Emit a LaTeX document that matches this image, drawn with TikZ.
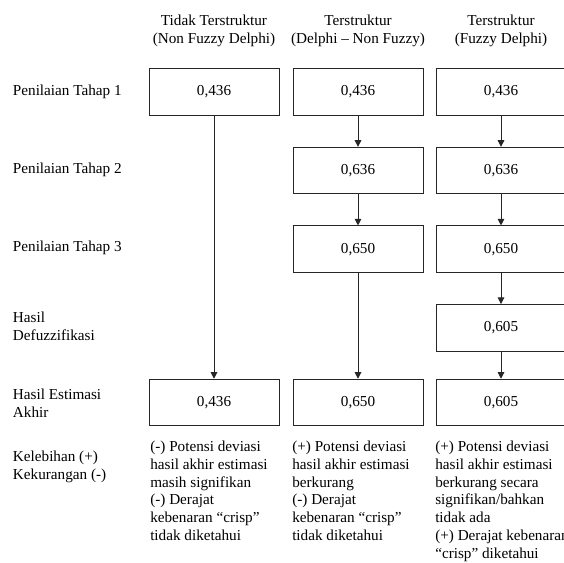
\documentclass[tikz,border=0pt]{standalone}
\usepackage{fontspec}
\setmainfont{Liberation Serif}
\usetikzlibrary{arrows.meta, positioning}
\tikzset{
    >=Latex,
    val_box/.style={
        rectangle,
        draw=black!85,
        line width=0.75pt,
        minimum width=97.5pt,
        minimum height=34.9pt,
        inner sep=0pt,
        align=center
    },
    row_label/.style={
        anchor=west,
        align=left,
        inner sep=0pt
    },
    col_head/.style={
        align=center,
        inner sep=0pt
    },
    note_text/.style={
        anchor=north west,
        align=left,
        inner sep=0pt
    },
    flow_arrow/.style={
        -{Triangle[length=5pt, width=5pt]},
        line width=0.75pt,
        draw=black!85,
        fill=black!85
    }
}

\begin{document}
\begin{tikzpicture}[x=0.75pt, y=-0.75pt,
  every node/.style={font=\fontsize{11.4}{13.4}\selectfont}]
\useasboundingbox (0,0) rectangle (564,562);

% column heads
\node[col_head] (headA) at (214,30.5) {Tidak Terstruktur\\(Non Fuzzy Delphi)};
\node[col_head] (headB) at (358,30.5) {Terstruktur\\(Delphi -- Non Fuzzy)};
\node[col_head] (headC) at (501,30.5) {Terstruktur\\(Fuzzy Delphi)};

% row labels
\node[row_label] (labT1) at (12.7,92) {Penilaian Tahap 1};
\node[row_label] (labT2) at (12.7,170) {Penilaian Tahap 2};
\node[row_label] (labT3) at (12.7,247.5) {Penilaian Tahap 3};
\node[row_label] (labDef) at (12.7,326) {Hasil\\Defuzzifikasi};
\node[row_label] (labAkhir) at (12.7,403.5) {Hasil Estimasi\\Akhir};
\node[row_label] (labPM) at (12.7,467) {Kelebihan (+)\\Kekurangan (-)};

% non fuzzy delphi
\node[val_box] (A1) at (214,92) {0,436};
\node[val_box] (A5) at (214,402.5) {0,436};

% delphi - non fuzzy
\node[val_box] (B1) at (358,92) {0,436};
\node[val_box, below=23.3pt of B1] (B2) {0,636};
\node[val_box, below=23.3pt of B2] (B3) {0,650};
\node[val_box] (B5) at (358,402.5) {0,650};

% fuzzy delphi
\node[val_box] (C1) at (501,92) {0,436};
\node[val_box, below=23.3pt of C1] (C2) {0,636};
\node[val_box, below=23.3pt of C2] (C3) {0,650};
\node[val_box, below=23.3pt of C3] (C4) {0,605};
\node[val_box] (C5) at (501,402.5) {0,605};

% notes
\node[note_text] (noteA) at (150,440.5)
  {(-) Potensi deviasi\\hasil akhir estimasi\\masih signifikan\\(-) Derajat\\kebenaran “crisp”\\tidak diketahui};
\node[note_text] (noteB) at (292,440.5)
  {(+) Potensi deviasi\\hasil akhir estimasi\\berkurang\\(-) Derajat\\kebenaran “crisp”\\tidak diketahui};
\node[note_text] (noteC) at (435,440.5)
  {(+) Potensi deviasi\\hasil akhir estimasi\\berkurang secara\\signifikan/bahkan\\tidak ada\\(+) Derajat kebenaran\\“crisp” diketahui};

\draw[flow_arrow] (A1) -- (A5);
\draw[flow_arrow] (B1) -- (B2);
\draw[flow_arrow] (B2) -- (B3);
\draw[flow_arrow] (B3) -- (B5);
\draw[flow_arrow] (C1) -- (C2);
\draw[flow_arrow] (C2) -- (C3);
\draw[flow_arrow] (C3) -- (C4);
\draw[flow_arrow] (C4) -- (C5);

\end{tikzpicture}
\end{document}
